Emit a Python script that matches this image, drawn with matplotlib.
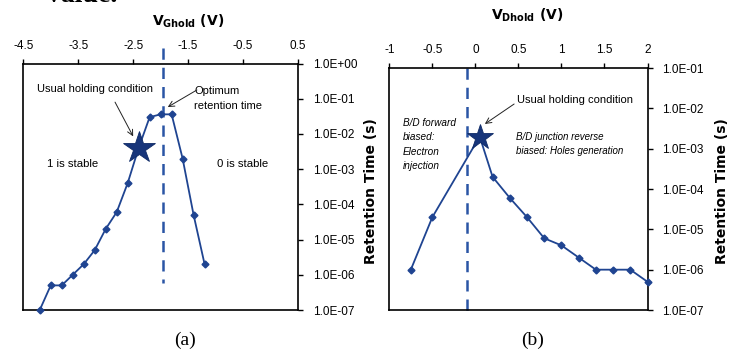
import matplotlib
matplotlib.use('Agg')
import matplotlib.pyplot as plt
from matplotlib.ticker import FixedLocator, FuncFormatter, NullLocator

# ---------------- data ----------------
a_vg = [-4.2, -4.0, -3.8, -3.6, -3.4, -3.2, -3.0, -2.8, -2.6, -2.4, -2.2, -2.0, -1.8, -1.6, -1.4, -1.2]
a_ret = [1e-7, 5e-7, 5e-7, 1e-6, 2e-6, 5e-6, 2e-5, 6e-5, 4e-4, 4e-3, 3e-2, 3.6e-2, 3.6e-2, 2e-3, 5e-5, 2e-6]
a_star = (-2.4, 4e-3)
a_opt = -1.95
a_xticks = [-4.5, -3.5, -2.5, -1.5, -0.5, 0.5]
a_yticks = [1e-7, 1e-6, 1e-5, 1e-4, 1e-3, 1e-2, 1e-1, 1e0]

b_vd = [-0.75, -0.5, 0.05, 0.2, 0.4, 0.6, 0.8, 1.0, 1.2, 1.4, 1.6, 1.8, 2.0]
b_ret = [1e-6, 2e-5, 2e-3, 2e-4, 6e-5, 2e-5, 6e-6, 4e-6, 2e-6, 1e-6, 1e-6, 1e-6, 5e-7]
b_star = (0.05, 2e-3)
b_hold = -0.1
b_xticks = [-1, -0.5, 0, 0.5, 1, 1.5, 2]
b_xlabels = ['-1', '-0.5', '0', '0.5', '1', '1.5', '2']
b_yticks = [1e-7, 1e-6, 1e-5, 1e-4, 1e-3, 1e-2, 1e-1]

# ---------------- style ----------------
LINE = '#1f4491'
STAR = '#17357a'
DASH = '#2a55a5'
NARROW = ['Liberation Sans', 'DejaVu Sans']
plt.rcParams['mathtext.fontset'] = 'dejavusans'

fig = plt.figure(figsize=(7.34, 3.52), dpi=100)
axA = fig.add_axes([0.0317, 0.1193, 0.3743, 0.7003])
axB = fig.add_axes([0.5304, 0.1193, 0.3518, 0.6875])

def style(ax, xticks, xlabels, yticks, ylim, xlim):
    ax.set_yscale('log')
    ax.set_xlim(*xlim)
    ax.set_ylim(*ylim)
    ax.xaxis.tick_top()
    ax.yaxis.tick_right()
    ax.xaxis.set_major_locator(FixedLocator(xticks))
    ax.set_xticklabels(xlabels)
    ax.yaxis.set_major_locator(FixedLocator(yticks))
    ax.yaxis.set_minor_locator(NullLocator())
    ax.yaxis.set_major_formatter(FuncFormatter(lambda v, p: f"{v:.1E}"))
    for s in ax.spines.values():
        s.set_linewidth(1.2)
        s.set_color('#000000')
    ax.tick_params(axis='x', direction='out', length=3.5, width=1.0, pad=5,
                   labelsize=8.5)
    ax.tick_params(axis='y', direction='out', length=3.5, width=1.0, pad=7,
                   labelsize=8.5)
    for lab in ax.get_xticklabels() + ax.get_yticklabels():
        lab.set_family(NARROW)

# ---------------- panel (a) ----------------
style(axA, a_xticks, [f"{v:g}" for v in a_xticks], a_yticks, (1e-7, 1e0), (-4.5, 0.5))
axA.plot(a_vg, a_ret, color=LINE, lw=1.3, marker='D', ms=3.5, mec=LINE, mfc=LINE,
         clip_on=False, zorder=3)
axA.plot([a_star[0]], [a_star[1]], marker='*', ms=24, color=STAR, mec='#0e2a66',
         mew=0.6, zorder=4, clip_on=False)
axA.plot([a_opt, a_opt], [2.8, 6e-7], color=DASH, lw=1.8, ls=(0, (4.5, 3.2)),
         clip_on=False, zorder=2)

axA.text(-3.2, 0.19, 'Usual holding condition', ha='center', va='center',
         fontsize=8, family=NARROW)
axA.annotate('', xy=(-2.50, 8.5e-3), xytext=(-2.83, 0.08),
             arrowprops=dict(arrowstyle='->', color='#222222', lw=0.7, shrinkA=0, shrinkB=0))
axA.text(-1.39, 0.10, 'Optimum\nretention time', ha='left', va='center',
         fontsize=8, family=NARROW, linespacing=1.6)
axA.annotate('', xy=(-1.87, 0.058), xytext=(-1.34, 0.177),
             arrowprops=dict(arrowstyle='->', color='#222222', lw=0.7, shrinkA=0, shrinkB=0))
axA.text(-3.61, 1.4e-3, '1 is stable', ha='center', va='center', fontsize=8.2, family=NARROW)
axA.text(-0.50, 1.4e-3, '0 is stable', ha='center', va='center', fontsize=8.2, family=NARROW)

axA.set_xlabel(r'$\mathbf{V}_{\mathbf{Ghold}}$ (V)', fontsize=10, fontweight='bold',
               family='DejaVu Sans')
axA.xaxis.set_label_position('top')
axA.xaxis.set_label_coords(0.60, 1.155)
axA.set_ylabel('Retention Time (s)', fontsize=10, fontweight='bold', family='DejaVu Sans')
axA.yaxis.set_label_position('right')
axA.yaxis.set_label_coords(1.24, 0.483)

# ---------------- panel (b) ----------------
style(axB, b_xticks, b_xlabels, b_yticks, (1e-7, 1e-1), (-1, 2))
axB.plot(b_vd, b_ret, color=LINE, lw=1.3, marker='D', ms=3.5, mec=LINE, mfc=LINE,
         clip_on=False, zorder=3)
axB.plot([b_star[0]], [b_star[1]], marker='*', ms=19, color=STAR, mec='#0e2a66',
         mew=0.6, zorder=4, clip_on=False)
axB.plot([b_hold, b_hold], [1e-1, 7.5e-8], color=DASH, lw=1.8, ls=(0, (4.5, 3.2)),
         clip_on=False, zorder=2)

axB.text(1.16, 0.0161, 'Usual holding condition', ha='center', va='center',
         fontsize=8, family=NARROW)
axB.annotate('', xy=(0.11, 4.1e-3), xytext=(0.45, 0.0128),
             arrowprops=dict(arrowstyle='->', color='#222222', lw=0.7, shrinkA=0, shrinkB=0))
axB.text(-0.84, 1.27e-3, 'B/D forward\nbiased:\nElectron\ninjection', ha='left', va='center',
         fontsize=7.2, family=NARROW, style='italic', linespacing=1.55)
axB.text(0.47, 1.3e-3, 'B/D junction reverse\nbiased: Holes generation', ha='left',
         va='center', fontsize=7.0, family=NARROW, style='italic', linespacing=1.6)

axB.set_xlabel(r'$\mathbf{V}_{\mathbf{Dhold}}$ (V)', fontsize=10, fontweight='bold',
               family='DejaVu Sans')
axB.xaxis.set_label_position('top')
axB.xaxis.set_label_coords(0.533, 1.198)
axB.set_ylabel('Retention Time (s)', fontsize=10, fontweight='bold', family='DejaVu Sans')
axB.yaxis.set_label_position('right')
axB.yaxis.set_label_coords(1.26, 0.492)

# ---------------- captions ----------------
fig.text(185 / 734, 1 - 340 / 352, '(a)', ha='center', va='center', fontsize=14,
         family=['Liberation Serif', 'DejaVu Serif'])
fig.text(533 / 734, 1 - 340 / 352, '(b)', ha='center', va='center', fontsize=14,
         family=['Liberation Serif', 'DejaVu Serif'])
fig.text(47 / 734, 1 - 2.5 / 352, 'value.', ha='left', va='baseline', fontsize=20,
         fontweight='bold', family=['Liberation Serif', 'DejaVu Serif'])

fig.savefig('out.png', dpi=100)
